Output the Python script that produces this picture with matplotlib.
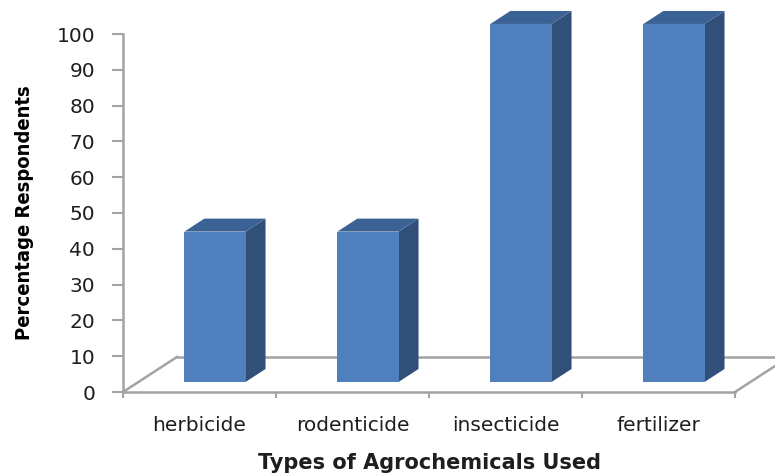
import matplotlib
matplotlib.use("Agg")
import matplotlib.pyplot as plt
import numpy as np

# survey results: share of respondents using each agrochemical
categories = ["herbicide", "rodenticide", "insecticide", "fertilizer"]
percent = [42, 42, 100, 100]
yticks = list(range(0, 101, 10))

# oblique "3-D" look: full floor depth expressed in data units
depth_x, depth_y = 0.353, 9.8
front_frac, bar_frac = 0.286, 0.37
bar_w = 0.4

face_c = "#4F7FBC"
side_c = "#30507A"
top_c = "#3A6294"
line_c = "#A3A3A3"
text_c = "#1E1E1E"

fig = plt.figure(figsize=(7.75, 4.76), dpi=100)
ax = fig.add_axes([123 / 775, 84 / 476, 612 / 775, 358 / 476])
ax.set_xlim(0, len(categories))
ax.set_ylim(0, 100)

# floor outline
n = len(categories)
floor_kw = dict(color=line_c, lw=1.8, clip_on=False, zorder=1)
ax.plot([0, depth_x], [0, depth_y], **floor_kw)
ax.plot([depth_x, n + depth_x], [depth_y, depth_y], **floor_kw)
ax.plot([n, n + depth_x], [0, depth_y], **floor_kw)

# columns: front, side and top faces
for i, v in enumerate(percent):
    x0 = i + 0.3 + front_frac * depth_x
    y0 = front_frac * depth_y
    bx, by = bar_frac * depth_x, bar_frac * depth_y
    x1 = x0 + bar_w
    ax.fill([x1, x1 + bx, x1 + bx, x1], [y0, y0 + by, y0 + v + by, y0 + v],
            color=side_c, clip_on=False, zorder=3, lw=0)
    ax.fill([x0, x1, x1 + bx, x0 + bx], [y0 + v, y0 + v, y0 + v + by, y0 + v + by],
            color=top_c, clip_on=False, zorder=3, lw=0)
    ax.fill([x0, x1, x1, x0], [y0, y0, y0 + v, y0 + v],
            color=face_c, clip_on=False, zorder=4, lw=0)

for s in ["top", "right"]:
    ax.spines[s].set_visible(False)
for s in ["left", "bottom"]:
    ax.spines[s].set_color(line_c)
    ax.spines[s].set_linewidth(1.8)
    ax.spines[s].set_zorder(2)

ax.set_yticks(yticks)
ax.tick_params(axis="y", length=8, width=1.5, color=line_c, pad=12,
               labelsize=14.5, labelcolor=text_c)
ax.set_xticks(np.arange(n + 1))
ax.set_xticklabels([])
ax.set_xticks(np.arange(n) + 0.5, minor=True)
ax.set_xticklabels(categories, minor=True)
ax.tick_params(axis="x", which="major", length=4.5, width=1.5, color=line_c)
ax.tick_params(axis="x", which="minor", length=0, pad=17,
               labelsize=14.5, labelcolor=text_c)

ax.set_ylabel("Percentage Respondents", fontsize=14.5, fontweight="bold",
              fontstretch="condensed", family="DejaVu Sans", labelpad=16)
ax.set_xlabel("Types of Agrochemicals Used", fontsize=15, fontweight="bold",
              labelpad=13, color=text_c)

fig.savefig("out.png", dpi=100)
